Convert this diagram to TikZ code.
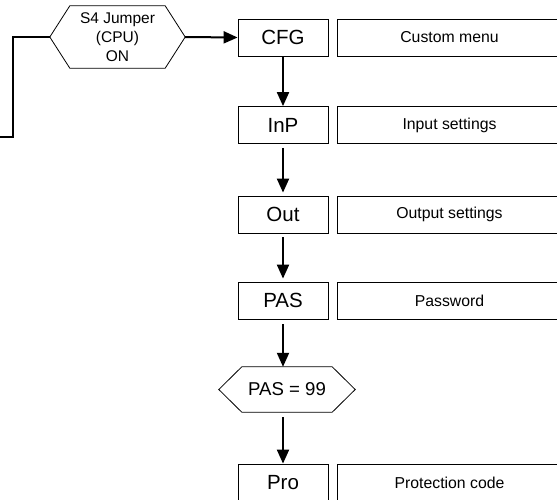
\documentclass[tikz,border=0pt]{standalone}
\usepackage{fontspec}
\setmainfont{Liberation Sans}
\usepackage{tikz}
\usetikzlibrary{arrows.meta}

\newcommand{\hexline}[2]{%
  \draw[line width=0.8pt] (#1.west) -- ([xshift=#2]#1.north west) -- ([xshift=-#2]#1.north east)
    -- (#1.east) -- ([xshift=-#2]#1.south east) -- ([xshift=#2]#1.south west) -- cycle;}

\begin{document}
\begin{tikzpicture}[x=1pt, y=-1pt,
    menubox/.style={draw, line width=0.8pt, minimum width=90pt, minimum height=37pt, inner sep=0pt,
      font=\fontsize{20.5}{24}\selectfont},
    descbox/.style={draw, line width=0.8pt, minimum width=225pt, minimum height=37pt, inner sep=0pt,
      font=\fontsize{15.8}{19}\selectfont},
    hexbox/.style={minimum height=#1, inner sep=0pt, align=center},
    flow/.style={line width=2pt, -{Triangle[length=14pt,width=12pt]}}]
        \useasboundingbox (0, 0) rectangle (557, 499);
        \clip (0, 0) rectangle (557, 499);

        \node[hexbox=62pt, minimum width=135pt, font=\fontsize{15.5}{19.3}\selectfont]
          (jumper) at (117.5, 37) {S4 Jumper\\(CPU)\\ON};
        \hexline{jumper}{20pt}

        \node[menubox] (cfg) at (283, 37.5) {CFG};
        \node[menubox] (inp) at (283, 125) {InP};
        \node[menubox] (out) at (283, 214.5) {Out};
        \node[menubox] (pas) at (283, 300.5) {PAS};
        \node[menubox] (pro) at (283, 482.5) {Pro};

        \node[descbox] (cfgtxt) at (449.5, 37.5) {Custom menu};
        \node[descbox] (inptxt) at (449.5, 125) {Input settings};
        \node[descbox] (outtxt) at (449.5, 214.5) {Output settings};
        \node[descbox] (pastxt) at (449.5, 300.5) {Password};
        \node[descbox] (protxt) at (449.5, 482.5) {Protection code};

        \node[hexbox=45pt, minimum width=136pt, font=\fontsize{18.6}{22}\selectfont]
          (check) at (287, 389.5) {PAS = 99};
        \hexline{check}{23pt}

        \coordinate (entry) at (-5, 137);
        \coordinate (bend) at (13, 137);
        \draw[line width=2pt] (entry) -- (bend) |- (jumper.west);
        \draw[flow] (jumper.east) -- (cfg.west);

        \draw[flow] (cfg.south) -- (inp.north);
        \draw[flow, shorten <=4pt, shorten >=3pt] (inp.south) -- (out.north);
        \draw[flow, shorten <=4pt, shorten >=3pt] (out.south) -- (pas.north);
        \draw[flow, shorten <=5pt] (pas.south) -- (pas.south |- check.north);
        \draw[flow, shorten <=5pt] (pas.south |- check.south) -- (pro.north);
\end{tikzpicture}
\end{document}
